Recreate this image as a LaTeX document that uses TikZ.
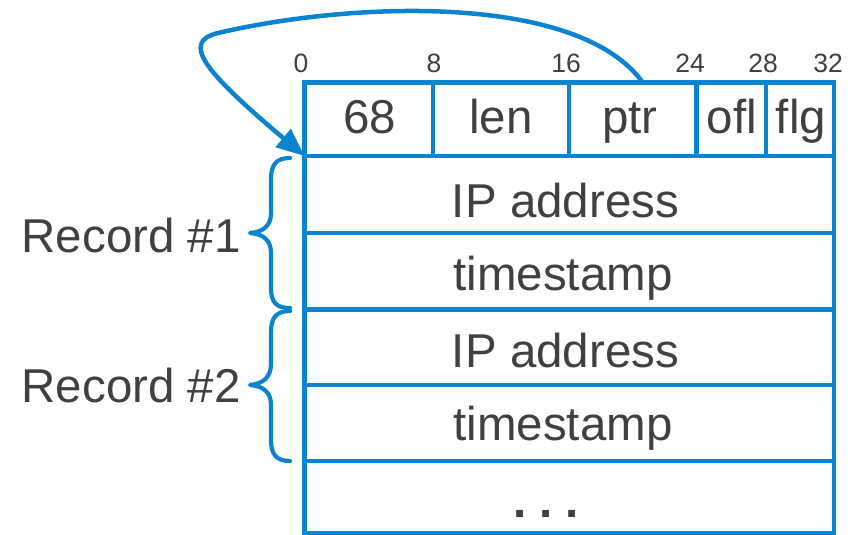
\documentclass[tikz,border=0pt]{standalone}
\usepackage{fontspec}
\setmainfont{Liberation Sans}
\usetikzlibrary{arrows.meta}
\definecolor{frameblue}{HTML}{0A84D0}
\definecolor{inkgrey}{HTML}{404040}
\begin{document}
\begin{tikzpicture}[x=1pt,y=-1pt,
  cell/.style={draw=frameblue,line width=4.6pt,rectangle,inner sep=0pt,outer sep=0pt,
               anchor=north west},
  big/.style={text=inkgrey,font=\fontsize{47.5}{52}\selectfont,inner sep=0pt,anchor=base},
  bit/.style={text=inkgrey,font=\fontsize{26.5}{30}\selectfont,inner sep=0pt,anchor=base},
  bracket/.style={draw=frameblue,line width=4.2pt,line cap=round,line join=round},
  pointer/.style={draw=frameblue,line width=4.5pt,line cap=round,
                  -{Triangle[length=28pt,width=23pt]}}]
\useasboundingbox (0,0) rectangle (855,535);

% header row: option type, length, pointer, overflow, flags
\node[cell,minimum width=128.5pt,minimum height=73.5pt] (f68) at (304.5,82.5) {};
\node[cell,minimum width=136pt,minimum height=73.5pt]   (flen) at (433,82.5) {};
\node[cell,minimum width=127.5pt,minimum height=73.5pt] (fptr) at (569,82.5) {};
\node[cell,minimum width=69.5pt,minimum height=73.5pt]  (fofl) at (696.5,82.5) {};
\node[cell,minimum width=68pt,minimum height=73.5pt]    (fflg) at (766,82.5) {};

% record rows
\node[cell,minimum width=529.5pt,minimum height=77pt]   (ip1) at (304.5,156) {};
\node[cell,minimum width=529.5pt,minimum height=76.5pt] (ts1) at (304.5,233) {};
\node[cell,minimum width=529.5pt,minimum height=75.5pt] (ip2) at (304.5,309.5) {};
\node[cell,minimum width=529.5pt,minimum height=76pt]   (ts2) at (304.5,385) {};
\node[cell,minimum width=529.5pt,minimum height=72pt]   (more) at (304.5,461) {};

% header texts
\node[big] at (370,134) {68};
\node[big] at (501,134) {len};
\node[big] at (630,134) {ptr};
\node[big] at (732,134) {ofl};
\node[big] at (801,134) {flg};

% bit positions
\node[bit] at (301,73) {0};
\node[bit] at (434,73) {8};
\node[bit] at (566,73) {16};
\node[bit] at (690,73) {24};
\node[bit] at (763,73) {28};
\node[bit] at (828,73) {32};

% row texts
\node[big] at (565.5,217) {IP address};
\node[big] at (563,290) {timestamp};
\node[big] at (565.5,367) {IP address};
\node[big] at (563,440) {timestamp};
\node[big] at (546,517) {\textbf{.\ .\ .}};

% record labels
\node[big,anchor=base east] (rec1) at (241,252) {Record \#1};
\node[big,anchor=base east] (rec2) at (241,402) {Record \#2};

% braces
\draw[bracket] (290,158) .. controls (276,158) and (271,165) .. (271,179)
  -- (271,213) .. controls (271,226) and (263,232) .. (250,233)
  .. controls (263,234) and (271,240) .. (271,253)
  -- (271,288) .. controls (271,302) and (276,308) .. (290,308);
\draw[bracket] (290,311) .. controls (276,311) and (271,318) .. (271,332)
  -- (271,364) .. controls (271,377) and (263,384) .. (250,385)
  .. controls (263,386) and (271,392) .. (271,405)
  -- (271,440) .. controls (271,454) and (276,461) .. (290,461);

% pointer arrow from ptr back to the first record
\draw[pointer] ([xshift=10pt]fptr.north)
  .. controls (580,-5) and (360,0) .. (218,33)
  .. controls (180,42) and (205,72) .. (f68.south west);
\end{tikzpicture}
\end{document}
